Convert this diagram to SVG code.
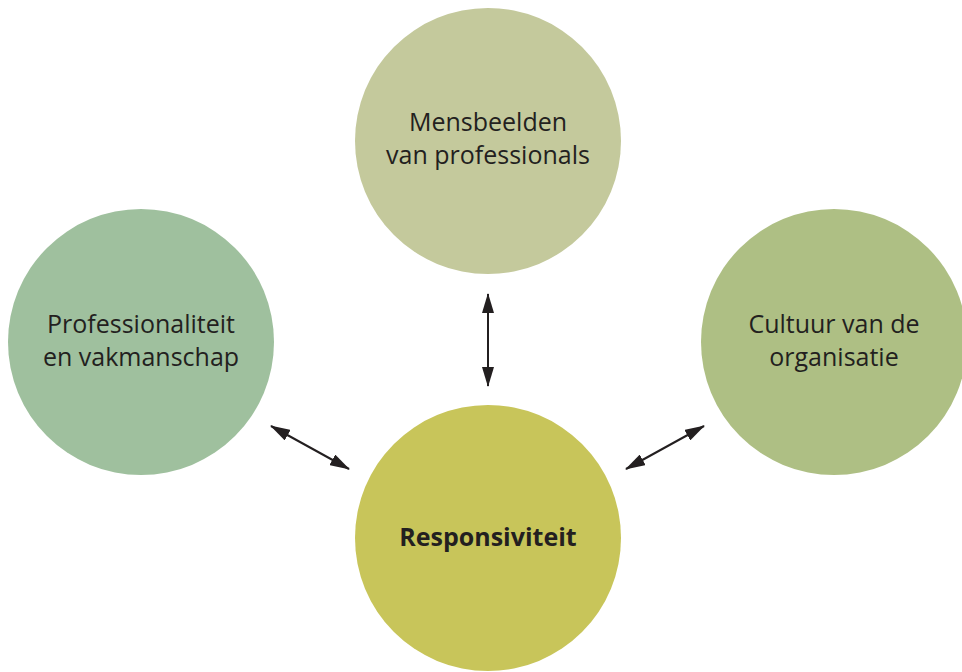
<svg xmlns="http://www.w3.org/2000/svg" width="962" height="672" viewBox="0 0 962 672">
<style>
.t{font-family:"Open Sans","Noto Sans","Liberation Sans",sans-serif;font-size:25px;fill:#231f20;text-anchor:middle}
.b{font-weight:bold}
.c{stroke:#231f20;stroke-width:2;fill:none;marker-start:url(#h);marker-end:url(#h)}
</style>
<defs>
<marker id="h" viewBox="0 0 20 12" refX="19" refY="6" markerWidth="20" markerHeight="12" markerUnits="userSpaceOnUse" orient="auto-start-reverse">
<path d="M0,0 L20,6 L0,12 z" fill="#231f20"/>
</marker>
</defs>
<rect width="962" height="672" fill="#fff"/>
<g id="mensbeelden">
<circle cx="488" cy="141" r="133" fill="#c4c99c"/>
<text class="t" x="488" y="131">Mensbeelden</text>
<text class="t" x="488" y="164">van professionals</text>
</g>
<g id="professionaliteit">
<circle cx="141" cy="342" r="133" fill="#9fc09e"/>
<text class="t" x="141" y="333">Professionaliteit</text>
<text class="t" x="141" y="366">en vakmanschap</text>
</g>
<g id="cultuur">
<circle cx="834" cy="342" r="133" fill="#aebf84"/>
<text class="t" x="834" y="333">Cultuur van de</text>
<text class="t" x="834" y="366">organisatie</text>
</g>
<g id="responsiviteit">
<circle cx="488" cy="538" r="133" fill="#c8c55a"/>
<text class="t b" x="488" y="546">Responsiviteit</text>
</g>
<g id="connectors">
<line class="c" x1="488" y1="294" x2="488" y2="386"/>
<line class="c" x1="271" y1="426" x2="349" y2="469"/>
<line class="c" x1="626" y1="469" x2="704" y2="426"/>
</g>
</svg>
